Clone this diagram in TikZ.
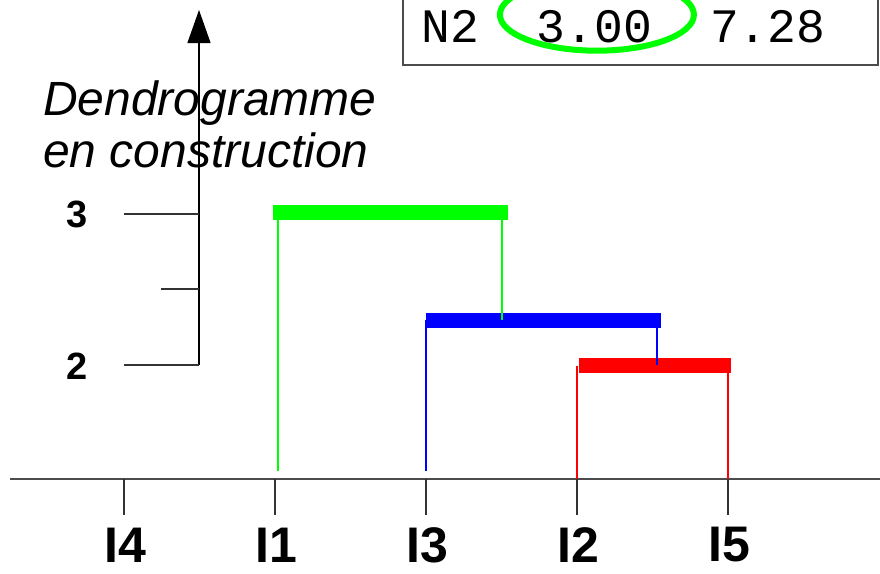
\documentclass[tikz,border=0pt]{standalone}
\usepackage{fontspec}
\setmainfont{Liberation Sans}
\setmonofont{Liberation Mono}
\usetikzlibrary{arrows.meta,positioning}

\begin{document}
\begin{tikzpicture}[x=1pt, y=-1pt,
		leaf/.style={font=\fontsize{50}{50}\selectfont\bfseries, inner sep=0pt},
		level/.style={font=\fontsize{38}{38}\selectfont\bfseries, inner sep=0pt},
		mono/.style={font=\fontsize{48}{48}\selectfont\ttfamily, inner sep=0pt},
		title/.style={font=\fontsize{48}{52}\selectfont\itshape, align=left, inner sep=0pt},
		axis/.style={draw=black!70, line width=1.4pt},
		tick/.style={draw=black!80, line width=1.2pt},
		bar/.style={line width=15pt},
		stem/.style={line width=1.2pt}]
		
		\useasboundingbox (0,0) rectangle (880,573);
		
		% Axes
		\coordinate (o)   at (199,365);
		\coordinate (top) at (199,10);
		\coordinate (xl)  at (10,479);
		\coordinate (xr)  at (880,479);
		\draw[axis] (xl) -- (xr);
		\draw[tick, draw=black, -{Triangle[length=33pt,width=23pt]}] (o) -- (top);
		
		% Define nodes
		\node[level] (h3) at (77,214) {3};
		\node[level] (h2) at (77,366) {2};
		\node[title, anchor=north west] (caption) at (43,81) {Dendrogramme\\en construction};
		\foreach \n/\x in {4/124,1/275,3/426,2/577,5/728}{
			\coordinate (x\n) at (\x,479);
			\draw[tick] (x\n) -- ++(0,36);
			\node[leaf] (i\n) at (\x+1.5,545) {I\n};
		}
		
		% Level ticks
		\draw[tick] (124,214) -- (o |- h3);
		\draw[tick] (161,289) -- (199,289);
		\draw[tick] (124,365) -- (o);
		
		% Current merge
		\node[mono, anchor=base west]    (name) at (421,42) {N2};
		\node[mono, base right=57.6pt of name] (dist) {3.00};
		\node[mono, base right=57.6pt of dist] (crit) {7.28};
		\draw[draw=black!70, line width=1.2pt] (403,-5) rectangle (878,65);
		\draw[green, line width=6pt] ([xshift=2.5pt,yshift=11.5pt]dist.center) ellipse [x radius=97pt, y radius=36pt];
		
		% Merges
		\coordinate (r) at (655,365.5);
		\coordinate (b) at (543.5,320);
		\coordinate (g) at (390.5,212.5);
		\draw[bar, red]   ([xshift=-76pt]r) -- ([xshift=76pt]r);
		\draw[bar, blue]  ([xshift=-117.5pt]b) -- ([xshift=117.5pt]b);
		\draw[bar, green] ([xshift=-117.5pt]g) -- ([xshift=117.5pt]g);
		
		% Connect the nodes
		\draw[stem, red]   (x2 |- r) -- (x2);
		\draw[stem, red]   (x5 |- r) -- (x5);
		\draw[stem, blue]  (x3 |- b) -- (426,471);
		\draw[stem, blue]  (657,327) -- (657,365);
		\draw[stem, green] (278,220) -- (278,471);
		\draw[stem, green] (502,212) -- (502,320);
		
	\end{tikzpicture}
\end{document}
